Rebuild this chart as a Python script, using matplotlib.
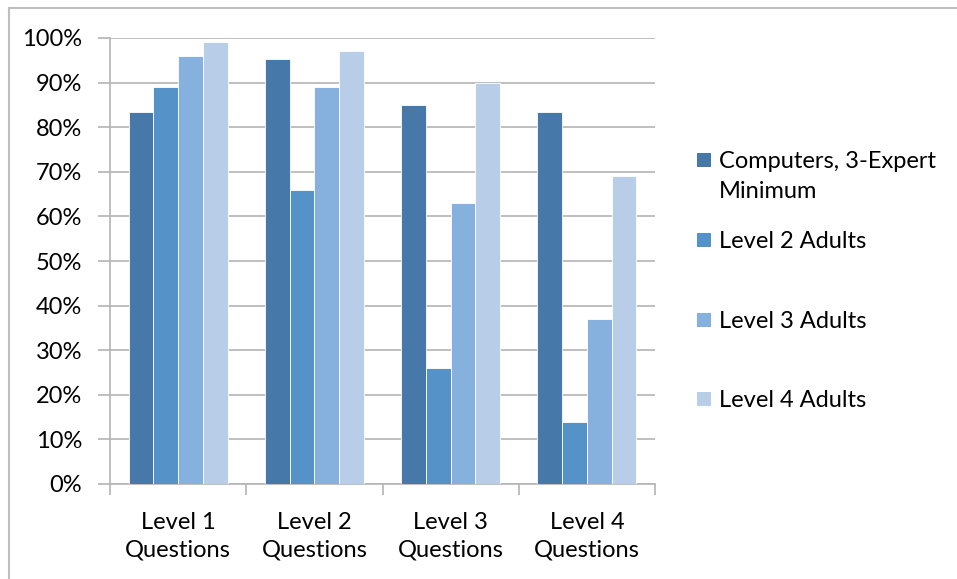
"""
grouped bar chart: share of questions answered correctly, by question level
"""
import numpy as np
from matplotlib import pyplot as plt
from matplotlib.lines import Line2D
from matplotlib.patches import Rectangle

plt.rcParams['font.family'] = ['Lato', 'DejaVu Sans']

categories = ['Level 1\nQuestions', 'Level 2\nQuestions', 'Level 3\nQuestions', 'Level 4\nQuestions']
series_names = ['Computers, 3-Expert\nMinimum', 'Level 2 Adults', 'Level 3 Adults', 'Level 4 Adults']
computers = [83.3, 95.3, 85.0, 83.3]
level2_adults = [89, 66, 26, 14]
level3_adults = [96, 89, 63, 37]
level4_adults = [99, 97, 90, 69]
y_ticks = [0, 10, 20, 30, 40, 50, 60, 70, 80, 90, 100]

colors = ['#4679A9', '#5592C8', '#86B0DD', '#B8CDE8']
grid_col = '#B4B4B4'
W, H = 957, 579

fig = plt.figure(figsize=(W / 100, H / 100), dpi=100)
ax = fig.add_axes([110 / W, 1 - 484 / H, 545 / W, 446 / H])

x = np.arange(len(categories))
bar_w = 1 / 5.5  # gap width 150%
all_series = [computers, level2_adults, level3_adults, level4_adults]
for i, vals in enumerate(all_series):
    ax.bar(x + (i - 1.5) * bar_w, vals, bar_w, color=colors[i],
           edgecolor='white', linewidth=0.6, zorder=3)

ax.set_xlim(-0.5, len(categories) - 0.5)
ax.set_ylim(0, 100)
ax.set_yticks(y_ticks)
ax.set_yticklabels([f'{t}%' for t in y_ticks])
ax.yaxis.grid(True, color=grid_col, linewidth=1.2, zorder=0)

ax.set_xticks(x)
ax.set_xticklabels(categories, linespacing=1.4)
ax.set_xticks(np.arange(len(categories) + 1) - 0.5, minor=True)
ax.tick_params(axis='x', which='major', length=0, pad=20)
ax.tick_params(axis='x', which='minor', length=8, color=grid_col, width=1.2)
ax.tick_params(axis='y', length=9, color=grid_col, width=1.2, pad=11)
ax.tick_params(labelsize=17)

for side in ['top', 'right']:
    ax.spines[side].set_visible(False)
for side in ['left', 'bottom']:
    ax.spines[side].set_color(grid_col)
    ax.spines[side].set_linewidth(1.2)

# legend laid out like Excel: one slot per entry, wrapped text runs downward
legend_y = [160, 240, 320, 399]
for name, col, yc in zip(series_names, colors, legend_y):
    fig.add_artist(Rectangle((697 / W, 1 - (yc + 7) / H), 14 / W, 14 / H,
                             facecolor=col, edgecolor='none', transform=fig.transFigure))
    for k, line in enumerate(name.split('\n')):
        fig.text(719 / W, 1 - (yc + 8 + 30 * k) / H, line, fontsize=17,
                 va='baseline', ha='left')

# chart-area border (top and left edges only visible)
fig.add_artist(Line2D([9 / W, 9 / W], [0, 1 - 8 / H], color='#BEBEBE', linewidth=1.5,
                      transform=fig.transFigure))
fig.add_artist(Line2D([9 / W, 1.0], [1 - 8 / H, 1 - 8 / H], color='#BEBEBE', linewidth=1.5,
                      transform=fig.transFigure))

fig.savefig('out.png', dpi=100)
